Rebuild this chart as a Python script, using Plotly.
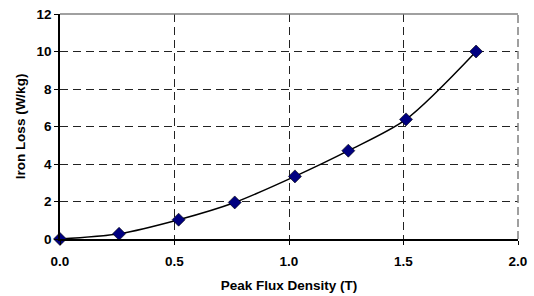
import plotly.graph_objects as go

flux_density = [0.0, 0.258, 0.518, 0.763, 1.026, 1.259, 1.511, 1.817]
iron_loss = [0.0, 0.28, 1.03, 1.95, 3.34, 4.71, 6.38, 10.0]
x_ticks = [0.0, 0.5, 1.0, 1.5, 2.0]
x_labels = ["0.0", "0.5", "1.0", "1.5", "2.0"]
y_ticks = [0, 2, 4, 6, 8, 10, 12]

font_family = "Liberation Sans, Arial, sans-serif"
bold13 = dict(family=font_family, size=13.5, weight="bold", color="black")

fig = go.Figure()
fig.add_trace(go.Scatter(
    x=flux_density, y=iron_loss,
    mode="lines+markers",
    line=dict(color="black", width=1.5, shape="spline", smoothing=0.8),
    marker=dict(symbol="diamond", size=10, color="#000080",
                line=dict(color="black", width=0.6)),
    cliponaxis=False,
    showlegend=False,
))

fig.update_layout(
    width=534, height=296,
    margin=dict(l=60, r=16, t=14, b=57),
    paper_bgcolor="white", plot_bgcolor="white",
    font=dict(family=font_family, size=13, color="black"),
    shapes=[
        dict(type="line", xref="paper", yref="paper", x0=0, x1=1, y0=1, y1=1,
             line=dict(color="#808080", width=1.5)),
        dict(type="line", xref="paper", yref="paper", x0=1, x1=1, y0=0, y1=1,
             line=dict(color="#808080", width=1.5, dash="8px,4px")),
    ],
)
fig.update_xaxes(
    range=[0, 2.0], tickvals=x_ticks, ticktext=x_labels,
    showgrid=True, gridcolor="#222222", griddash="8px,5px", gridwidth=1,
    showline=True, linecolor="black", linewidth=1.5,
    ticks="outside", ticklen=4, tickcolor="black",
    tickfont=bold13, automargin=False, ticklabelstandoff=5,
    zeroline=False,
    title=dict(text="Peak Flux Density (T)", standoff=13, font=bold13),
)
fig.update_yaxes(
    range=[0, 12], tickvals=y_ticks,
    showgrid=True, gridcolor="#222222", griddash="8px,5px", gridwidth=1,
    showline=True, linecolor="black", linewidth=1.5,
    ticks="outside", ticklen=4, tickcolor="black",
    tickfont=bold13, automargin=False,
    zeroline=False,
    title=dict(text="Iron Loss (W/kg)", standoff=8, font=bold13),
)

fig.write_html("out.html", config={"displayModeBar": False},
               post_script="document.body.style.margin='0';")
